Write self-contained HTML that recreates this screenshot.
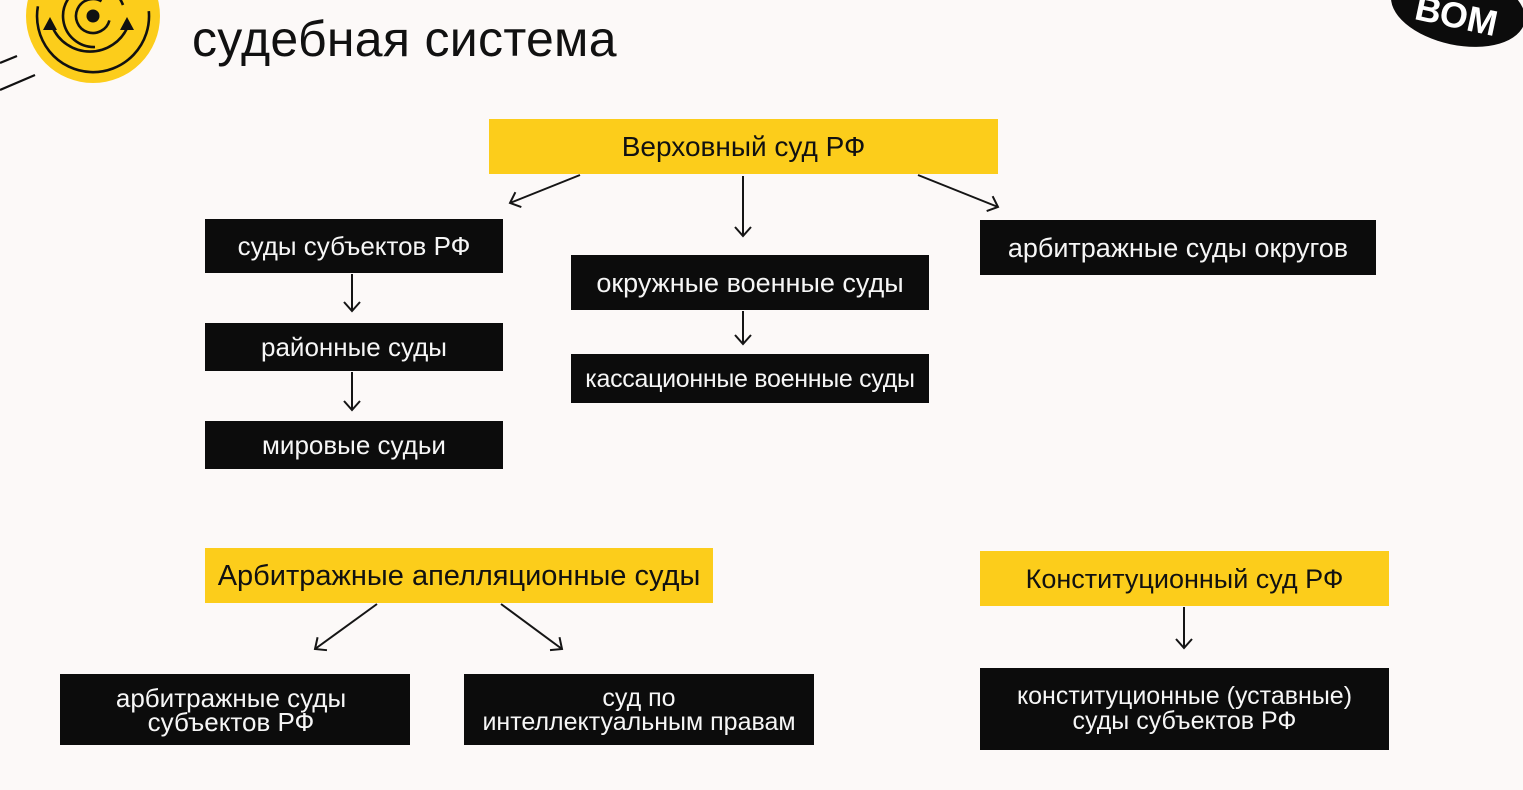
<!DOCTYPE html>
<html><head><meta charset="utf-8"><style>
html,body{margin:0;padding:0}
body{width:1523px;height:790px;background:#fcf9f8;position:relative;overflow:hidden;font-family:"Liberation Sans","DejaVu Sans",sans-serif}
.b{position:absolute;display:flex;align-items:center;justify-content:center;text-align:center;font-size:26px;line-height:24px;box-sizing:border-box;white-space:nowrap}
.k{background:#0c0c0c;color:#f6f6f6}
.y{background:#fccd1b;color:#111}
.t{position:absolute;left:192px;top:11px;font-size:50px;color:#111;letter-spacing:0.3px;line-height:56px}
svg{position:absolute;left:0;top:0}
</style></head><body>
<svg width="1523" height="790" viewBox="0 0 1523 790">
<defs>
<marker id="a" markerWidth="12" markerHeight="18" refX="10" refY="9" orient="auto" markerUnits="userSpaceOnUse">
<path d="M1,1 L10,9 L1,17" fill="none" stroke="#151515" stroke-width="2"/>
</marker>
</defs>
<!-- logo -->
<circle cx="93" cy="16" r="67" fill="#fccd1b"/>
<g fill="none" stroke="#111" stroke-width="2.6">
<circle cx="93" cy="16" r="6.5" fill="#111" stroke="none"/>
<path d="M101.5,1.3 A17,17 0 1 0 109.4,20.4"/>
<path d="M123,5 A31,31 0 1 0 95,47"/>
<path d="M52,26 A41,41 0 0 0 128,26"/>
<path d="M37.9,6.3 A56,56 0 1 0 148.8,11.1"/>
</g>
<path d="M50,17 L43,30 L57,30 Z" fill="#111"/>
<path d="M127,17 L120,30 L134,30 Z" fill="#111"/>
<line x1="0" y1="63" x2="17" y2="56" stroke="#111" stroke-width="2.2"/>
<line x1="0" y1="90" x2="35" y2="75" stroke="#111" stroke-width="2.2"/>
<!-- ВОМ -->
<g transform="rotate(12 1458 8)">
<ellipse cx="1458" cy="8" rx="68" ry="37" fill="#0c0c0c"/>
<text x="1458" y="28" text-anchor="middle" font-family="Liberation Sans, sans-serif" font-weight="bold" font-size="36" fill="#fff">ВОМ</text>
</g>
<!-- arrows -->
<g stroke="#151515" stroke-width="2" marker-end="url(#a)">
<line x1="580" y1="175" x2="510" y2="203"/>
<line x1="743" y1="176" x2="743" y2="236"/>
<line x1="918" y1="175" x2="998" y2="207"/>
<line x1="352" y1="274" x2="352" y2="311"/>
<line x1="352" y1="372" x2="352" y2="410"/>
<line x1="743" y1="311" x2="743" y2="344"/>
<line x1="377" y1="604" x2="315" y2="649"/>
<line x1="501" y1="604" x2="562" y2="649"/>
<line x1="1184" y1="607" x2="1184" y2="648"/>
</g>
</svg>
<div class="t">судебная система</div>

<div class="b y" style="left:489px;top:119px;width:509px;height:55px;font-size:28px">Верховный суд РФ</div>
<div class="b k" style="left:205px;top:219px;width:298px;height:54px">суды субъектов РФ</div>
<div class="b k" style="left:205px;top:323px;width:298px;height:48px">районные суды</div>
<div class="b k" style="left:205px;top:421px;width:298px;height:48px">мировые судьи</div>
<div class="b k" style="left:571px;top:255px;width:358px;height:55px;font-size:27px">окружные военные суды</div>
<div class="b k" style="left:571px;top:354px;width:358px;height:49px;font-size:25px;letter-spacing:-0.3px">кассационные военные суды</div>
<div class="b k" style="left:980px;top:220px;width:396px;height:55px;font-size:27px">арбитражные суды округов</div>
<div class="b y" style="left:205px;top:548px;width:508px;height:55px;font-size:29px">Арбитражные апелляционные суды</div>
<div class="b k" style="left:60px;top:674px;width:350px;height:71px;padding-right:8px">арбитражные суды<br>субъектов РФ</div>
<div class="b k" style="left:464px;top:674px;width:350px;height:71px;font-size:25px">суд по<br>интеллектуальным правам</div>
<div class="b y" style="left:980px;top:551px;width:409px;height:55px;font-size:27px">Конституционный суд РФ</div>
<div class="b k" style="left:980px;top:668px;width:409px;height:82px;line-height:25px;font-size:25px">конституционные (уставные)<br>суды субъектов РФ</div>
</body></html>
